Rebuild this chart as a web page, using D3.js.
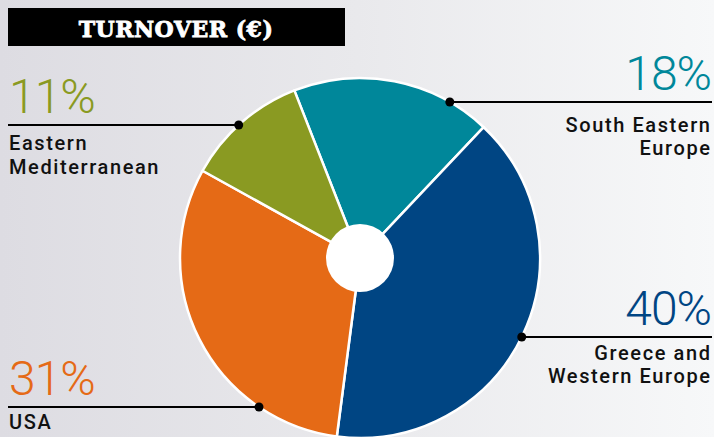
<!DOCTYPE html>
<html>
<head>
<meta charset="utf-8">
<script src="https://cdn.jsdelivr.net/npm/d3@7"></script>
<style>
  html, body { margin: 0; padding: 0; }
  body { width: 714px; height: 437px; overflow: hidden; }
  svg { display: block; }
</style>
</head>
<body>
<div id="chart"></div>
<script>
// dados do gráfico
const regioes = ["South Eastern Europe", "Greece and Western Europe", "USA", "Eastern Mediterranean"];
const percentuais = [18, 40, 31, 11];
const cores = ["#00879a", "#004583", "#e56a16", "#8a9a22"];
// rótulos em duas linhas
const linhasRotulo = [["South Eastern", "Europe"], ["Greece and", "Western Europe"], ["USA"], ["Eastern", "Mediterranean"]];
const titulo = "TURNOVER (€)";

const width = 714;
const height = 437;
const cx = 360, cy = 258;
const raio = 180, raioFuro = 34;

const svg = d3.select("#chart").append("svg")
    .attr("width", width)
    .attr("height", height);

// fundo com gradiente cinza
const defs = svg.append("defs");
const grad = defs.append("linearGradient")
    .attr("id", "fundo")
    .attr("x1", "0%").attr("x2", "100%")
    .attr("y1", "0%").attr("y2", "0%");
grad.append("stop").attr("offset", "0%").attr("stop-color", "#dddce2");
grad.append("stop").attr("offset", "50%").attr("stop-color", "#e9e9ec");
grad.append("stop").attr("offset", "100%").attr("stop-color", "#f7f8f9");

svg.append("rect")
    .attr("width", width)
    .attr("height", height)
    .attr("fill", "url(#fundo)");

// caixa do título
svg.append("rect")
    .attr("x", 8).attr("y", 8)
    .attr("width", 337).attr("height", 38)
    .attr("fill", "#000");

svg.append("text")
    .attr("x", 176).attr("y", 37)
    .attr("text-anchor", "middle")
    .attr("fill", "#fff")
    .attr("stroke", "#fff")
    .attr("stroke-width", 0.8)
    .attr("font-family", "'DejaVu Serif', serif")
    .attr("font-weight", "bold")
    .attr("font-size", 22)
    .attr("letter-spacing", 0.5)
    .text(titulo);

// pizza
const pie = d3.pie()
    .sort(null)
    .startAngle(-21.4 * Math.PI / 180)
    .endAngle(2 * Math.PI - 21.4 * Math.PI / 180);

const arcs = pie(percentuais);
const arc = d3.arc().innerRadius(0).outerRadius(raio);

const g = svg.append("g").attr("transform", `translate(${cx},${cy})`);

g.selectAll("path")
    .data(arcs)
    .join("path")
    .attr("d", arc)
    .attr("fill", (d, i) => cores[i])
    .attr("stroke", "#fff")
    .attr("stroke-width", 2.5)
    .attr("stroke-linejoin", "round");

g.append("circle")
    .attr("r", raioFuro)
    .attr("fill", "#fff");

// posições dos rótulos (lado, y da linha, deslocamento do texto)
const layout = [
    { lado: "dir", yLinha: 102, dyTexto: 30, passo: 23 },
    { lado: "dir", yLinha: 337, dyTexto: 23, passo: 23 },
    { lado: "esq", yLinha: 407, dyTexto: 22, passo: 23 },
    { lado: "esq", yLinha: 125, dyTexto: 25, passo: 24 }
];

layout.forEach((l, i) => {
    const dy = l.yLinha - cy;
    const dx = Math.sqrt(raio * raio - dy * dy);
    const xPonto = l.lado === "dir" ? cx + dx : cx - dx;
    const xFim = l.lado === "dir" ? 712 : 8;
    const xTexto = l.lado === "dir" ? 710 : 9;
    const anchor = l.lado === "dir" ? "end" : "start";

    svg.append("line")
        .attr("x1", xPonto).attr("x2", xFim)
        .attr("y1", l.yLinha).attr("y2", l.yLinha)
        .attr("stroke", "#000")
        .attr("stroke-width", 2);

    svg.append("circle")
        .attr("cx", xPonto).attr("cy", l.yLinha)
        .attr("r", 4.5)
        .attr("fill", "#000");

    svg.append("text")
        .attr("x", xTexto + (l.lado === "dir" ? 1 : 0))
        .attr("y", l.yLinha - 12)
        .attr("text-anchor", anchor)
        .attr("fill", cores[i])
        .attr("font-family", "Roboto, sans-serif")
        .attr("font-weight", 300)
        .attr("font-size", 48)
        .attr("letter-spacing", -1)
        .text(percentuais[i] + "%");

    linhasRotulo[i].forEach((linha, j) => {
        svg.append("text")
            .attr("x", xTexto + (l.lado === "dir" ? 1.6 : 0))
            .attr("y", l.yLinha + l.dyTexto + j * l.passo)
            .attr("text-anchor", anchor)
            .attr("fill", "#111")
            .attr("font-family", "Roboto, sans-serif")
            .attr("font-weight", 500)
            .attr("font-size", 20)
            .attr("letter-spacing", 1.6)
            .text(linha);
    });
});
</script>
</body>
</html>
